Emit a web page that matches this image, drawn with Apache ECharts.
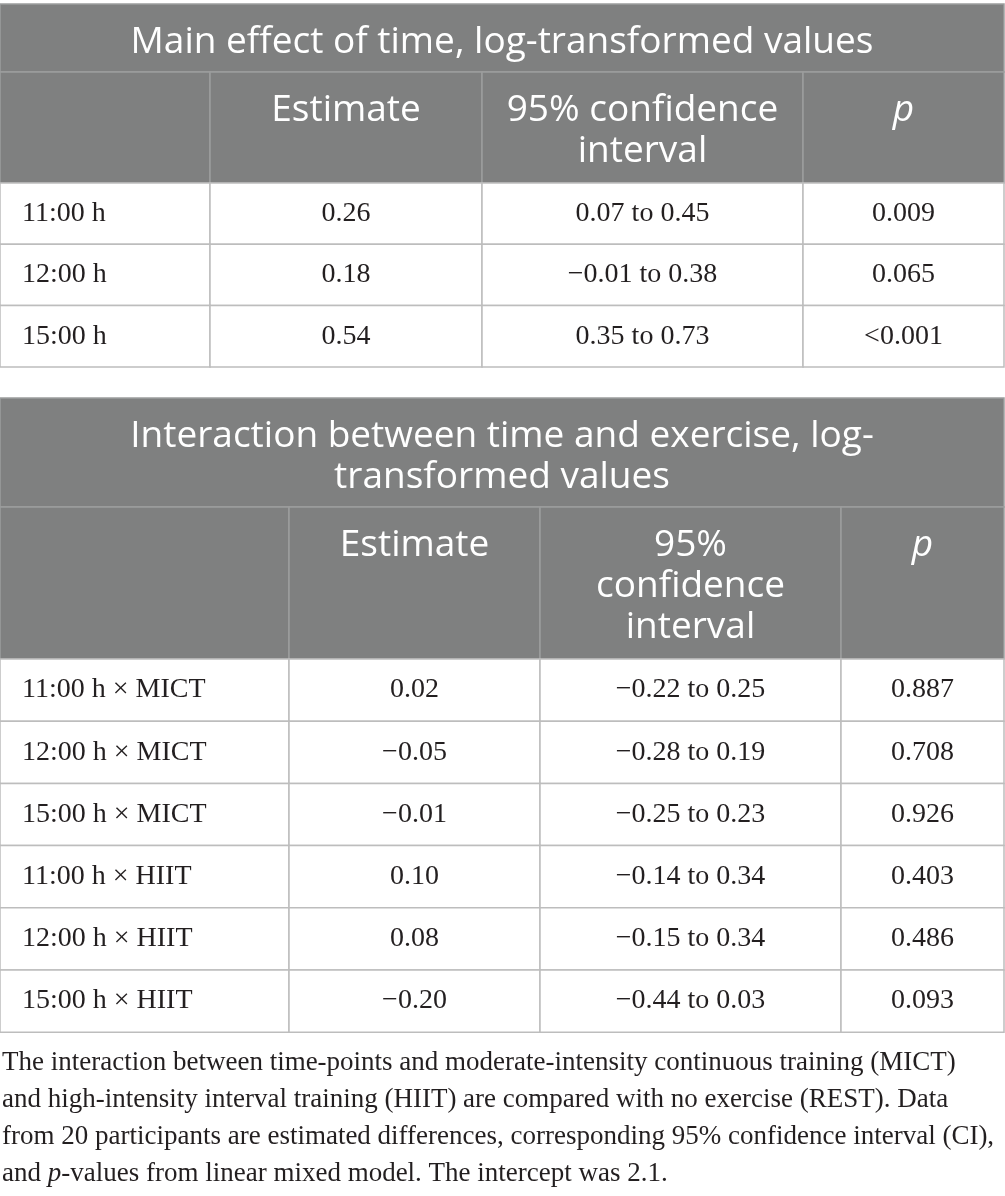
<!DOCTYPE html>
<html>
<head>
<meta charset="utf-8">
<script src="https://cdn.jsdelivr.net/npm/echarts@6/dist/echarts.min.js"></script>
<style>
  html, body { margin: 0; padding: 0; background: #fff; }
  #container { width: 1005px; height: 1196px; }
</style>
</head>
<body>
<div id="container"></div>
<script>
// table 1 : main effect of time
var tab1Title = 'Main effect of time, log-transformed values';
var tab1Heads = ['', 'Estimate', '95% confidence\ninterval', 'p'];
var tab1Rows = ['11:00 h', '12:00 h', '15:00 h'];
var tab1Est = [0.26, 0.18, 0.54];
var tab1Lo = [0.07, -0.01, 0.35];
var tab1Hi = [0.45, 0.38, 0.73];
var tab1P = ['0.009', '0.065', '<0.001'];

// table 2 : interaction time x exercise
var tab2Title = 'Interaction between time and exercise, log-\ntransformed values';
var tab2Heads = ['', 'Estimate', '95%\nconfidence\ninterval', 'p'];
var tab2Rows = ['11:00 h × MICT', '12:00 h × MICT', '15:00 h × MICT',
                '11:00 h × HIIT', '12:00 h × HIIT', '15:00 h × HIIT'];
var tab2Est = [0.02, -0.05, -0.01, 0.10, 0.08, -0.20];
var tab2Lo = [-0.22, -0.28, -0.25, -0.14, -0.15, -0.44];
var tab2Hi = [0.25, 0.19, 0.23, 0.34, 0.34, 0.03];
var tab2P = ['0.887', '0.708', '0.926', '0.403', '0.486', '0.093'];

var captionLines = [
  'The interaction between time-points and moderate-intensity continuous training (MICT)',
  'and high-intensity interval training (HIIT) are compared with no exercise (REST). Data',
  'from 20 participants are estimated differences, corresponding 95% confidence interval (CI),',
  'and {i|p}-values from linear mixed model. The intercept was 2.1.'
];

// layout (pixels of the page, used as axis units)
var layout1 = { cols: [0, 210, 482, 803, 1004], top: 4, titleH: 68, headH: 111, rowH: 61.3 };
var layout2 = { cols: [0, 289, 540, 841, 1004], top: 398, titleH: 109, headH: 152, rowH: 62.2 };

var SANS = '"Open Sans", Lato, sans-serif';
var SERIF = '"Liberation Serif", "DejaVu Serif", serif';
var GREY = '#7f8080';
var INK = '#231f20';

function fmt(v) {
    return (v < 0 ? '−' : '') + Math.abs(v).toFixed(2);
}

var cells = [];
function buildTable(lay, title, heads, rows, est, lo, hi, pv) {
    var c = lay.cols, x0 = c[0], x1 = c[c.length - 1];
    var y = lay.top;
    cells.push({ x0: x0, y0: y, x1: x1, y1: y + lay.titleH, kind: 'title', text: title });
    y += lay.titleH;
    heads.forEach(function (h, i) {
        cells.push({ x0: c[i], y0: y, x1: c[i + 1], y1: y + lay.headH, kind: 'head', text: h, italic: h === 'p' });
    });
    y += lay.headH;
    rows.forEach(function (r, j) {
        var vals = [r, fmt(est[j]), fmt(lo[j]) + ' to ' + fmt(hi[j]), pv[j]];
        vals.forEach(function (v, i) {
            cells.push({ x0: c[i], y0: y + j * lay.rowH, x1: c[i + 1], y1: y + (j + 1) * lay.rowH,
                         kind: i === 0 ? 'label' : 'body', text: v });
        });
    });
}
buildTable(layout1, tab1Title, tab1Heads, tab1Rows, tab1Est, tab1Lo, tab1Hi, tab1P);
buildTable(layout2, tab2Title, tab2Heads, tab2Rows, tab2Est, tab2Lo, tab2Hi, tab2P);

var myChart = echarts.init(document.getElementById('container'), null, { renderer: 'canvas' });
myChart.setOption({
    animation: false,
    grid: { left: 0, right: 0, top: 0, bottom: 0 },
    xAxis: { type: 'value', min: 0, max: 1005, show: false },
    yAxis: { type: 'value', min: 0, max: 1196, inverse: true, show: false },
    title: {
        text: captionLines.join('\n'),
        left: 2,
        top: 1044,
        padding: 0,
        textStyle: {
            fontFamily: SERIF, fontSize: 27, fontWeight: 'normal', color: INK, lineHeight: 37,
            rich: { i: { fontFamily: SERIF, fontSize: 27, fontStyle: 'italic', color: INK, lineHeight: 37 } }
        }
    },
    series: [{
        type: 'custom',
        silent: true,
        coordinateSystem: 'cartesian2d',
        data: cells.map(function (c) { return [c.x0, c.y0, c.x1, c.y1]; }),
        renderItem: function (params, api) {
            var c = cells[params.dataIndex];
            var a = api.coord([api.value(0), api.value(1)]);
            var b = api.coord([api.value(2), api.value(3)]);
            var w = b[0] - a[0], h = b[1] - a[1];
            var grey = c.kind === 'title' || c.kind === 'head';
            var rect = {
                type: 'rect',
                shape: { x: a[0], y: a[1], width: w, height: h },
                style: { fill: grey ? GREY : '#fff', stroke: grey ? '#9c9d9d' : '#bdbdbd', lineWidth: 1.5 }
            };
            var ts = { text: c.text, fill: grey ? '#fff' : INK, lineHeight: 41 };
            if (c.kind === 'title') {
                Object.assign(ts, { x: a[0] + w / 2, y: a[1] + h / 2 + 4, align: 'center', verticalAlign: 'middle',
                                    fontFamily: SANS, fontSize: 37 });
            } else if (c.kind === 'head') {
                Object.assign(ts, { x: a[0] + w / 2, y: a[1] + 18, align: 'center', verticalAlign: 'top',
                                    fontFamily: SANS, fontSize: 37, fontStyle: c.italic ? 'italic' : 'normal' });
            } else if (c.kind === 'label') {
                Object.assign(ts, { x: a[0] + 22, y: a[1] + h / 2, align: 'left', verticalAlign: 'middle',
                                    fontFamily: SERIF, fontSize: 28 });
            } else {
                Object.assign(ts, { x: a[0] + w / 2, y: a[1] + h / 2, align: 'center', verticalAlign: 'middle',
                                    fontFamily: SERIF, fontSize: 28 });
            }
            return { type: 'group', children: [rect, { type: 'text', style: ts, z2: 10 }] };
        }
    }]
});
</script>
</body>
</html>
